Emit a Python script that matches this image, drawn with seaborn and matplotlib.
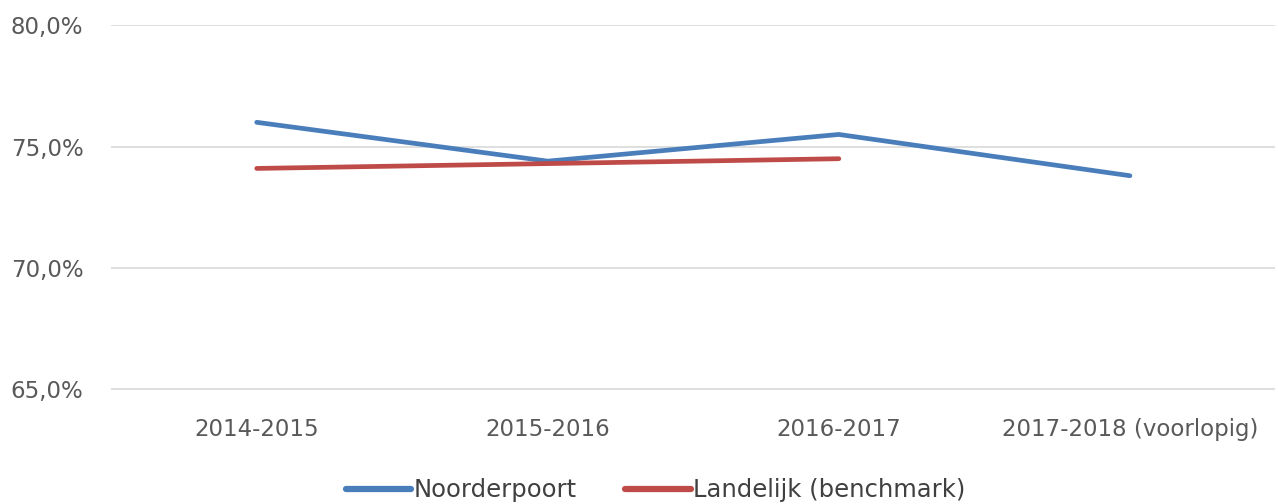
import matplotlib
matplotlib.use("Agg")
import matplotlib.pyplot as plt
from matplotlib.ticker import FuncFormatter
import pandas as pd
import seaborn as sns

# values (percent)
jaren = ['2014-2015', '2015-2016', '2016-2017', '2017-2018 (voorlopig)']
noorderpoort = [76.0, 74.4, 75.5, 73.8]
landelijk = [74.1, 74.3, 74.5, None]
reeksen = ['Noorderpoort', 'Landelijk (benchmark)']

df = pd.DataFrame({
    'jaar': jaren * 2,
    'waarde': noorderpoort + landelijk,
    'reeks': [reeksen[0]] * 4 + [reeksen[1]] * 4,
}).dropna()

sns.set_style('white')
plt.rcParams['font.family'] = ['DejaVu Sans']

fig = plt.figure(figsize=(12.78, 5.04), dpi=100)
ax = fig.add_axes([0.087, 0.226, 0.911, 0.724])

sns.lineplot(data=df, x='jaar', y='waarde', hue='reeks', hue_order=reeksen,
             palette=['#4a7ebb', '#be4b48'], linewidth=3.4, sort=False,
             ax=ax, legend=True)

ax.set_ylim(64.97, 80)
ax.set_yticks([65, 70, 75, 80])
ax.set_xlim(-0.5, 3.5)
ax.yaxis.set_major_formatter(FuncFormatter(lambda v, p: f'{v:.1f}%'.replace('.', ',')))
ax.grid(axis='y', color='#d9d9d9', linewidth=1.2)
ax.set_axisbelow(True)
for s in ax.spines.values():
    s.set_visible(False)
ax.tick_params(axis='both', length=0, labelsize=16.5, labelcolor='#595959')
ax.tick_params(axis='x', pad=20)
ax.tick_params(axis='y', pad=20)
ax.set_xlabel('')
ax.set_ylabel('')

h, l = ax.get_legend_handles_labels()
for hd in h:
    hd.set_linewidth(4.5)
ax.legend(h, l, loc='center', bbox_to_anchor=(0.513, 0.027), bbox_transform=fig.transFigure,
          ncol=2, frameon=False, fontsize=17.5, labelcolor='#404040',
          handlelength=2.7, handletextpad=0.1, columnspacing=2.0)

fig.savefig('out.png', dpi=100, facecolor='white')
